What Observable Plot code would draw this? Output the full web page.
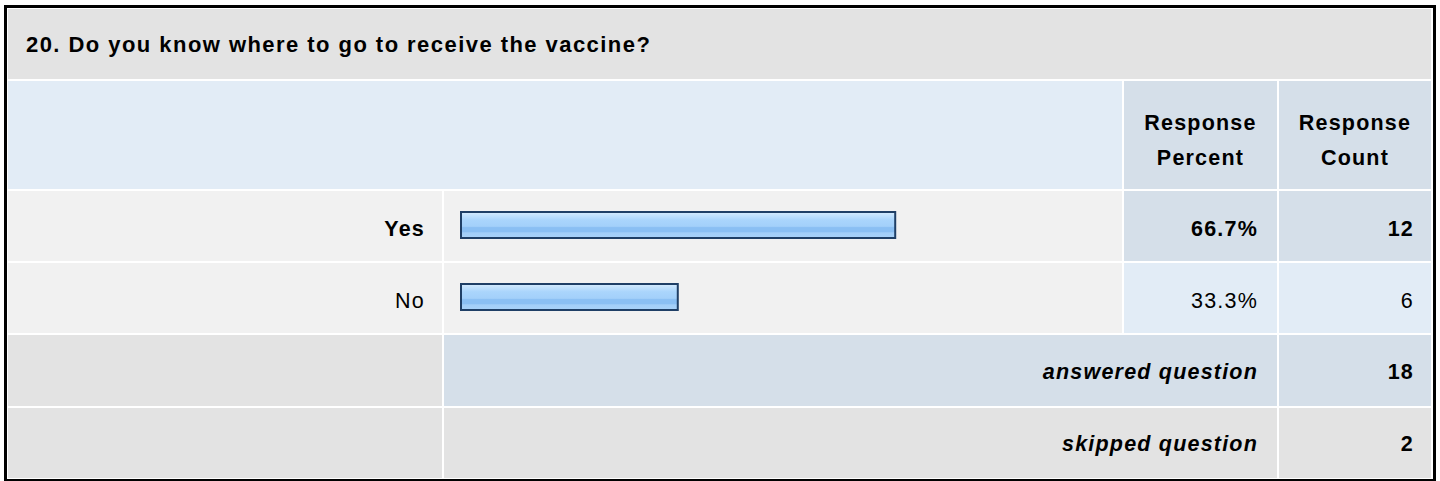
<!DOCTYPE html>
<html><head><meta charset="utf-8">
<script src="https://cdn.jsdelivr.net/npm/d3@7"></script>
<script src="https://cdn.jsdelivr.net/npm/@observablehq/plot@0.6"></script>
<style>
html,body{margin:0;padding:0;background:#fff;width:1440px;height:481px;overflow:hidden;}
#frame{position:absolute;left:4px;top:5px;border:3px solid #000;padding:1px 2px 1px 1px;background:#fff;}
#grid{display:grid;grid-template-columns:434px 678px 153px 152px;grid-template-rows:70px 108px 70px 70px 71px 70px;gap:2px;
  font-family:"Liberation Sans",Arial,Helvetica,sans-serif;font-size:21.5px;letter-spacing:1.2px;color:#000;}
.c{display:flex;align-items:center;box-sizing:border-box;padding-top:7px;white-space:nowrap;}
.r{justify-content:flex-end;}
.ctr{justify-content:center;text-align:center;}
.b{font-weight:bold;}
.i{font-style:italic;}
.gray{background:#e3e3e3;}
.lb{background:#e2ecf6;}
.mb{background:#d5dfe9;}
.row{background:#f1f1f1;}
#plotcell{grid-column:2/3;grid-row:3/5;background:#fff;}
#plotcell svg{display:block;}
</style>
</head><body>
<div id="frame"><div id="grid"></div></div>
<script>
const questionTitle = "20. Do you know where to go to receive the vaccine?";
const headerPercent = ["Response", "Percent"];
const headerCount = ["Response", "Count"];
const answers = ["Yes", "No"];
const percents = [66.7, 33.3];
const counts = [12, 6];
const summaryLabels = ["answered question", "skipped question"];
const summaryValues = [18, 2];

const grid = document.getElementById("grid");
function cell(html, cls, col, row, extra) {
  const d = document.createElement("div");
  d.className = "c " + cls;
  d.style.gridColumn = col;
  d.style.gridRow = row;
  if (extra) Object.assign(d.style, extra);
  d.innerHTML = html;
  grid.appendChild(d);
  return d;
}
// title
cell(questionTitle, "gray b", "1/5", "1/2", {paddingLeft: "18px", paddingTop: "1px", fontSize: "22px", letterSpacing: "1.45px"});
// header
cell("", "lb", "1/3", "2/3");
cell(headerPercent.join("<br>"), "mb b ctr", "3/4", "2/3", {lineHeight: "35px", paddingTop: "12px"});
cell(headerCount.join("<br>"), "mb b ctr", "4/5", "2/3", {lineHeight: "35px", paddingTop: "12px"});

const maxP = d3.max(percents);
answers.forEach((a, i) => {
  const top = percents[i] === maxP;
  const row = (3 + i) + "/" + (4 + i);
  cell(a, "row r" + (top ? " b" : ""), "1/2", row, {paddingRight: "17px"});
  cell(percents[i].toFixed(1) + "%", (top ? "mb b" : "lb") + " r", "3/4", row, {paddingRight: "19px"});
  cell(String(counts[i]), (top ? "mb b" : "lb") + " r", "4/5", row, {paddingRight: "17px"});
});
summaryLabels.forEach((s, i) => {
  const row = (5 + i) + "/" + (6 + i);
  const bg = i === 0 ? "mb" : "gray";
  cell("", "gray", "1/2", row);
  cell(s, bg + " b i r", "2/4", row, {paddingRight: "19px", paddingTop: "3px"});
  cell(String(summaryValues[i]), bg + " b r", "4/5", row, {paddingRight: "17px", paddingTop: "3px"});
});

const rows = answers.map((a, i) => ({answer: a, percent: percents[i], count: counts[i]}));
const chart = Plot.plot({
  width: 678, height: 142, margin: 0,
  style: {background: "#fff", overflow: "visible"},
  x: {domain: [0, 100], range: [17, 668], axis: null},
  y: {domain: answers, range: [0, 142], paddingInner: 2 / 72, paddingOuter: 0, axis: null},
  marks: [
    Plot.cell(rows, {y: "answer", fill: "#f1f1f1"}),
    Plot.barX(rows, {y: "answer", x: "percent", fill: "url(#barGrad)", stroke: "#1f3f66", strokeWidth: 2, insetTop: 21, insetBottom: 23})
  ]
});
d3.select(chart).insert("defs", ":first-child").html(`
  <linearGradient id="barGrad" x1="0" y1="0" x2="0" y2="1">
    <stop offset="0" stop-color="#d6ebfd"/>
    <stop offset="0.15" stop-color="#bfe0fd"/>
    <stop offset="0.3" stop-color="#aad5fc"/>
    <stop offset="0.55" stop-color="#a3d0fa"/>
    <stop offset="0.6" stop-color="#8abff3"/>
    <stop offset="0.76" stop-color="#8abff3"/>
    <stop offset="0.8" stop-color="#a2cef8"/>
    <stop offset="1" stop-color="#a8d2f9"/>
  </linearGradient>`);
const pc = document.createElement("div");
pc.id = "plotcell";
pc.appendChild(chart);
grid.appendChild(pc);
</script>
</body></html>
